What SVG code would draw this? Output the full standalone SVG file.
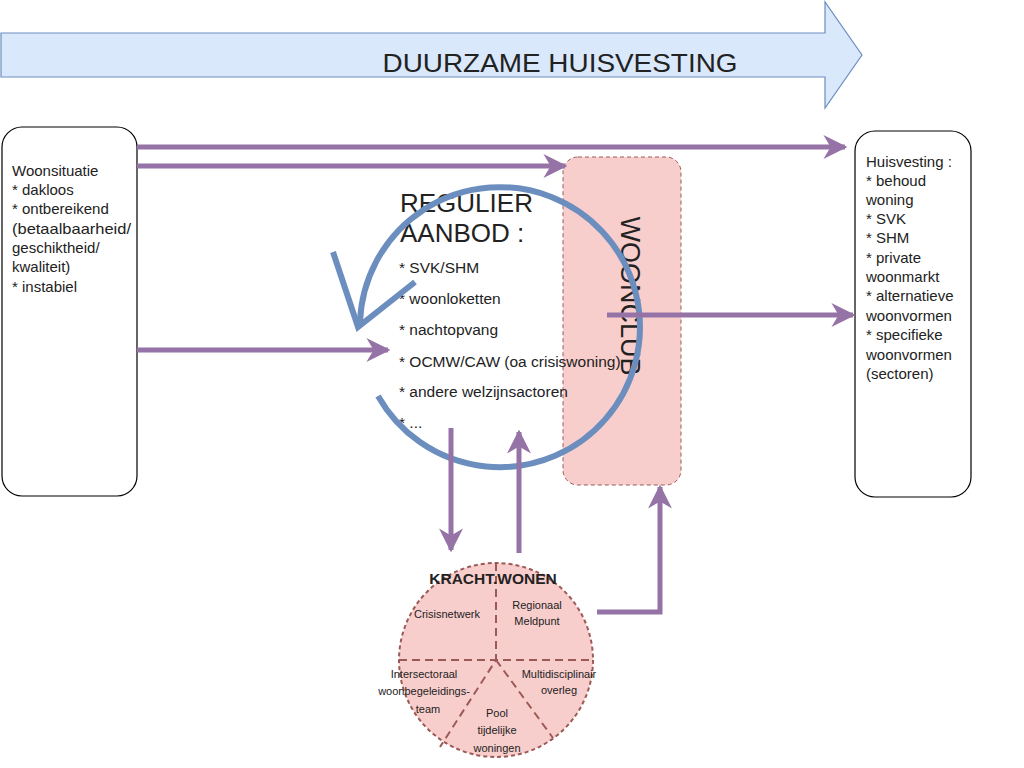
<svg xmlns="http://www.w3.org/2000/svg" width="1024" height="768" viewBox="0 0 1024 768">
<defs>
<style>
text{font-family:"Liberation Sans",Arial,sans-serif;fill:#222}
.box{fill:#fff;stroke:#000;stroke-width:1.2}
.lst{font-size:15px}
.reg{font-size:15.5px}
.kw{font-size:11px;text-anchor:middle}
.conn{fill:none;stroke:#9673a6;stroke-width:5}
.pink{fill:#f8cecc;stroke:#9c5a56;stroke-dasharray:4 3}
</style>
<marker id="ah" viewBox="0 0 10 10" refX="9" refY="5" markerWidth="4.8" markerHeight="4.8" markerUnits="strokeWidth" orient="auto">
<path d="M0,0 L10,5 L0,10 L3,5 Z" fill="#9673a6"/>
</marker>
</defs>
<rect width="1024" height="768" fill="#fff"/>

<g id="banner">
<path d="M1,33 H825 V2 L862,55 L825,108 V77 H1 Z" fill="#dae8fc" stroke="#6c8ebf" stroke-width="1.2"/>
<text x="560" y="72" font-size="26" text-anchor="middle" textLength="355" lengthAdjust="spacingAndGlyphs">DUURZAME HUISVESTING</text>
</g>

<g id="woonsituatie">
<rect class="box" x="2" y="127" width="135" height="369" rx="20"/>
<text class="lst" x="12" y="176" font-size="14.5">Woonsituatie</text>
<text class="lst" x="12" y="195">* dakloos</text>
<text class="lst" x="12" y="214">* ontbereikend</text>
<text class="lst" x="12" y="234" textLength="119" lengthAdjust="spacingAndGlyphs">(betaalbaarheid/</text>
<text class="lst" x="12" y="253">geschiktheid/</text>
<text class="lst" x="12" y="272">kwaliteit)</text>
<text class="lst" x="12" y="292">* instabiel</text>
</g>

<g id="huisvesting">
<rect class="box" x="855" y="131" width="116" height="366" rx="20"/>
<text class="lst" x="866" y="167">Huisvesting :</text>
<text class="lst" x="866" y="186">* behoud</text>
<text class="lst" x="866" y="205">woning</text>
<text class="lst" x="866" y="224">* SVK</text>
<text class="lst" x="866" y="243">* SHM</text>
<text class="lst" x="866" y="263">* private</text>
<text class="lst" x="866" y="282">woonmarkt</text>
<text class="lst" x="866" y="301">* alternatieve</text>
<text class="lst" x="866" y="321">woonvormen</text>
<text class="lst" x="866" y="340">* specifieke</text>
<text class="lst" x="866" y="360">woonvormen</text>
<text class="lst" x="866" y="379">(sectoren)</text>
</g>

<g id="woonclub">
<rect class="pink" x="563" y="157" width="118" height="328" rx="15"/>
<text x="0" y="0" font-size="27" text-anchor="middle" transform="translate(621,296) rotate(90)">WOONCLUB</text>
</g>

<g id="regulier-aanbod">
<text x="400" y="212" font-size="26">REGULIER</text>
<text x="400" y="242" font-size="26">AANBOD :</text>
<text class="reg" x="399" y="273">* SVK/SHM</text>
<text class="reg" x="399" y="304">* woonloketten</text>
<text class="reg" x="399" y="335">* nachtopvang</text>
<text class="reg" x="399" y="367">* OCMW/CAW (oa crisiswoning)</text>
<text class="reg" x="399" y="397">* andere welzijnsactoren</text>
<text class="reg" x="399" y="428">* ...</text>
</g>

<g id="cycle">
<path d="M378,396 A140,140 0 1 0 360,322" fill="none" stroke="#6c8ebf" stroke-width="6"/>
<path d="M333,252 L358,327 L415,282" fill="none" stroke="#6c8ebf" stroke-width="6"/>
</g>

<g id="krachtwonen">
<circle class="pink" cx="496" cy="660" r="97" stroke-width="2" stroke-dasharray="8 5"/>
<path d="M399,660 H593 M496,563 V660 L440,747 M496,660 L553,738" fill="none" stroke="#9c5a56" stroke-width="2" stroke-dasharray="8 5"/>
<text x="493" y="584" font-size="15.5" font-weight="bold" text-anchor="middle">KRACHT.WONEN</text>
<text class="kw" x="447" y="618">Crisisnetwerk</text>
<text class="kw" x="537" y="609">Regionaal</text>
<text class="kw" x="537" y="625">Meldpunt</text>
<text class="kw" x="424" y="678">Intersectoraal</text>
<text class="kw" x="424" y="695">woonbegeleidings-</text>
<text class="kw" x="428" y="713">team</text>
<text class="kw" x="559" y="678">Multidisciplinair</text>
<text class="kw" x="559" y="694">overleg</text>
<text class="kw" x="497" y="717">Pool</text>
<text class="kw" x="497" y="734">tijdelijke</text>
<text class="kw" x="497" y="752">woningen</text>
</g>

<g id="connectors">
<path class="conn" d="M137,147 H845" marker-end="url(#ah)"/>
<path class="conn" d="M137,166 H565" marker-end="url(#ah)"/>
<path class="conn" d="M137,350 H388" marker-end="url(#ah)"/>
<path class="conn" d="M607,315 H853" marker-end="url(#ah)"/>
<path class="conn" d="M451,428 V550" marker-end="url(#ah)"/>
<path class="conn" d="M519,553 V432" marker-end="url(#ah)"/>
<path class="conn" d="M597,612 H660 V487" marker-end="url(#ah)"/>
</g>
</svg>
